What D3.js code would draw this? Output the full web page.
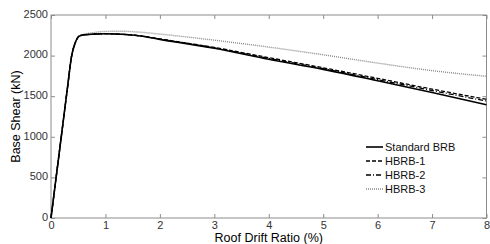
<!DOCTYPE html>
<html>
<head>
<meta charset="utf-8">
<script src="https://cdn.jsdelivr.net/npm/d3@7"></script>
<style>
  body { margin: 0; background: #fff; }
  text { font-family: "Liberation Sans", Arial, sans-serif; }
</style>
</head>
<body>
<div id="chart"></div>
<script>
// data
const driftStd = [0, 0.1, 0.2, 0.3, 0.38, 0.44, 0.48, 0.52, 0.6, 0.8, 1.0, 1.3, 1.6, 2, 3, 4, 5, 6, 7, 8];
const standardBRB = [0, 530, 1060, 1590, 2000, 2150, 2210, 2240, 2255, 2265, 2270, 2262, 2245, 2200, 2090, 1955, 1830, 1690, 1545, 1395];
const hbrb1 = [0, 530, 1060, 1590, 2000, 2150, 2210, 2240, 2255, 2265, 2270, 2262, 2247, 2205, 2100, 1975, 1850, 1720, 1587, 1462];
const hbrb2 = [0, 530, 1060, 1590, 2000, 2150, 2210, 2240, 2255, 2265, 2270, 2262, 2246, 2203, 2095, 1965, 1840, 1705, 1570, 1440];
const hbrb3 = [0, 530, 1060, 1590, 2000, 2150, 2212, 2245, 2262, 2285, 2298, 2300, 2290, 2265, 2190, 2105, 2010, 1908, 1815, 1745];
const seriesNames = ["Standard BRB", "HBRB-1", "HBRB-2", "HBRB-3"];
const xTicks = [0, 1, 2, 3, 4, 5, 6, 7, 8];
const yTicks = [0, 500, 1000, 1500, 2000, 2500];

const width = 490, height = 244;
const margin = {top: 15, right: 3, bottom: 26, left: 51};

const svg = d3.select("#chart")
    .append("svg")
    .attr("width", width)
    .attr("height", height);

const xScale = d3.scaleLinear().domain([0, 8]).range([margin.left, width - margin.right - 0.5]);
const yScale = d3.scaleLinear().domain([0, 2500]).range([height - margin.bottom, margin.top]);

const styles = [
    {dash: null, color: "#000", w: 1.6},
    {dash: "4,2", color: "#000", w: 1.3},
    {dash: "5,2,1,2", color: "#000", w: 1.3},
    {dash: "1,1", color: "#8a8a8a", w: 1.4}
];
const allSeries = [standardBRB, hbrb1, hbrb2, hbrb3];

// frame
const x0 = xScale(0), x1 = xScale(8), y0 = yScale(0), y1 = yScale(2500);
svg.append("rect")
    .attr("x", x0).attr("y", y1)
    .attr("width", x1 - x0).attr("height", y0 - y1)
    .attr("fill", "none").attr("stroke", "#8c8c8c").attr("stroke-width", 1);

// axes, ticks inward
const gx = svg.append("g").attr("transform", `translate(0,${y0})`)
    .call(d3.axisBottom(xScale).tickValues(xTicks).tickSize(-4).tickPadding(5).tickFormat(d3.format("d")));
svg.append("g").attr("transform", `translate(0,${y1})`)
    .call(d3.axisTop(xScale).tickValues(xTicks).tickSize(-4).tickFormat(""));
const gy = svg.append("g").attr("transform", `translate(${x0},0)`)
    .call(d3.axisLeft(yScale).tickValues(yTicks).tickSize(-4).tickPadding(3).tickFormat(d3.format("d")));
svg.append("g").attr("transform", `translate(${x1},0)`)
    .call(d3.axisRight(yScale).tickValues(yTicks).tickSize(-4).tickFormat(""));

svg.selectAll(".domain").remove();
svg.selectAll(".tick line").attr("stroke", "#8c8c8c");
svg.selectAll(".tick text").attr("fill", "#333").attr("font-size", "11px")
    .attr("font-family", "'Liberation Sans', Arial, sans-serif");
gx.selectAll(".tick text").attr("dy", "0.55em");
gy.selectAll(".tick text").attr("dy", "0.2em");

// lines
const line = d3.line()
    .x((d, i) => xScale(driftStd[i]))
    .y(d => yScale(d))
    .curve(d3.curveMonotoneX);

const order = [3, 2, 1, 0];
order.forEach(k => {
    svg.append("path")
        .datum(allSeries[k])
        .attr("d", line)
        .attr("fill", "none")
        .attr("stroke", styles[k].color)
        .attr("stroke-width", styles[k].w)
        .attr("stroke-dasharray", styles[k].dash);
});

// legend
const legend = svg.append("g").attr("transform", "translate(366,147)");
seriesNames.forEach((name, i) => {
    const row = legend.append("g").attr("transform", `translate(0,${i * 14})`);
    row.append("line")
        .attr("x1", 0).attr("x2", 17).attr("y1", 0).attr("y2", 0)
        .attr("stroke", styles[i].color)
        .attr("stroke-width", styles[i].w)
        .attr("stroke-dasharray", styles[i].dash);
    row.append("text")
        .attr("x", 19).attr("y", 4)
        .attr("font-size", "11px")
        .attr("fill", "#111")
        .text(name);
});

// axis titles
svg.append("text")
    .attr("x", (x0 + x1) / 2).attr("y", 242)
    .attr("text-anchor", "middle")
    .attr("font-size", "12.5px")
    .text("Roof Drift Ratio (%)");

svg.append("text")
    .attr("transform", `translate(20,${(y0 + y1) / 2}) rotate(-90)`)
    .attr("text-anchor", "middle")
    .attr("font-size", "12.5px")
    .text("Base Shear (kN)");
</script>
</body>
</html>
